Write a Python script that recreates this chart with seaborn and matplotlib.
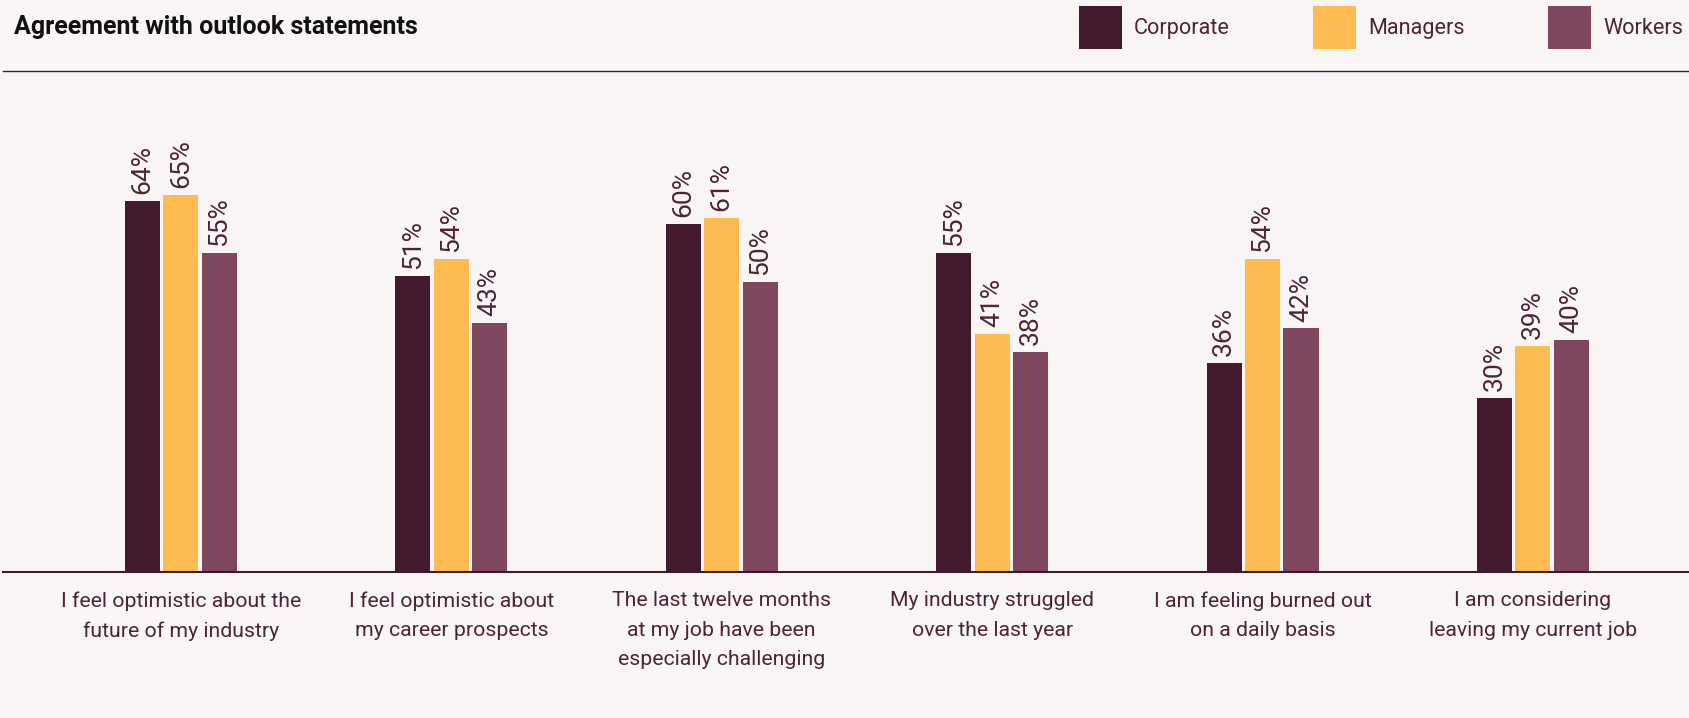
import matplotlib
matplotlib.use("Agg")
import matplotlib.pyplot as plt
import seaborn as sns
import pandas as pd

# Survey statements (wrapped as they appear under each group)
statements = [
    "I feel optimistic about the\nfuture of my industry",
    "I feel optimistic about\nmy career prospects",
    "The last twelve months\nat my job have been\nespecially challenging",
    "My industry struggled\nover the last year",
    "I am feeling burned out\non a daily basis",
    "I am considering\nleaving my current job",
]
groups = ["Corporate", "Managers", "Workers"]

# Share agreeing with each statement, in percent
corporate = [64, 51, 60, 55, 36, 30]
managers = [65, 54, 61, 41, 54, 39]
workers = [55, 43, 50, 38, 42, 40]

colors = ["#431a2d", "#fdbb52", "#7f4660"]
bg = "#f9f5f5"
ink = "#4b2536"
line_col = "#3f1a2e"

df = pd.DataFrame({
    "statement": statements * 3,
    "group": [g for g in groups for _ in statements],
    "share": corporate + managers + workers,
})

sns.set_theme(style="white")
plt.rcParams["font.family"] = ["Roboto", "DejaVu Sans"]

W, H = 1690, 718
fig = plt.figure(figsize=(W / 100, H / 100), dpi=100, facecolor=bg)
ax = fig.add_axes([3 / W, 1 - 572 / H, 1 - 3 / W, (572 - 71) / H])
ax.set_facecolor(bg)

sns.barplot(data=df, x="statement", y="share", hue="group", order=statements,
            hue_order=groups, palette=colors, saturation=1, width=0.427, gap=0.09,
            linewidth=0, ax=ax)

for cont in ax.containers:
    vals = [int(round(b.get_height())) for b in cont]
    ax.bar_label(cont, labels=[f"{v}%" for v in vals], rotation=90, padding=5,
                 fontsize=19, color=ink)

ax.set_xlim(-0.658, 5.581)
ax.set_ylim(0, 86.4)
ax.set_xlabel("")
ax.set_ylabel("")
ax.set_yticks([])
ax.tick_params(axis="x", length=0, pad=14, labelsize=15.3, labelcolor=ink)
for lbl in ax.get_xticklabels():
    lbl.set_linespacing(1.7)

for side in ["left", "right"]:
    ax.spines[side].set_visible(False)
ax.spines["top"].set_color(line_col)
ax.spines["top"].set_linewidth(1.0)
ax.spines["bottom"].set_color(line_col)
ax.spines["bottom"].set_linewidth(1.5)

handles, labels = ax.get_legend_handles_labels()
if ax.legend_ is not None:
    ax.legend_.remove()
fig.legend(handles, labels, loc="upper right", bbox_to_anchor=(1683 / W, 1 - 6 / H),
           ncol=3, frameon=False, fontsize=15.6, labelcolor=ink, borderpad=0,
           handlelength=1.99, handleheight=2.67, handletextpad=0.55,
           columnspacing=3.85, borderaxespad=0)

fig.text(14 / W, 1 - 34 / H, "Agreement with outlook statements", fontsize=18,
         fontweight="bold", color="#111111", va="baseline", ha="left")

fig.savefig("out.png", dpi=100, facecolor=bg)
